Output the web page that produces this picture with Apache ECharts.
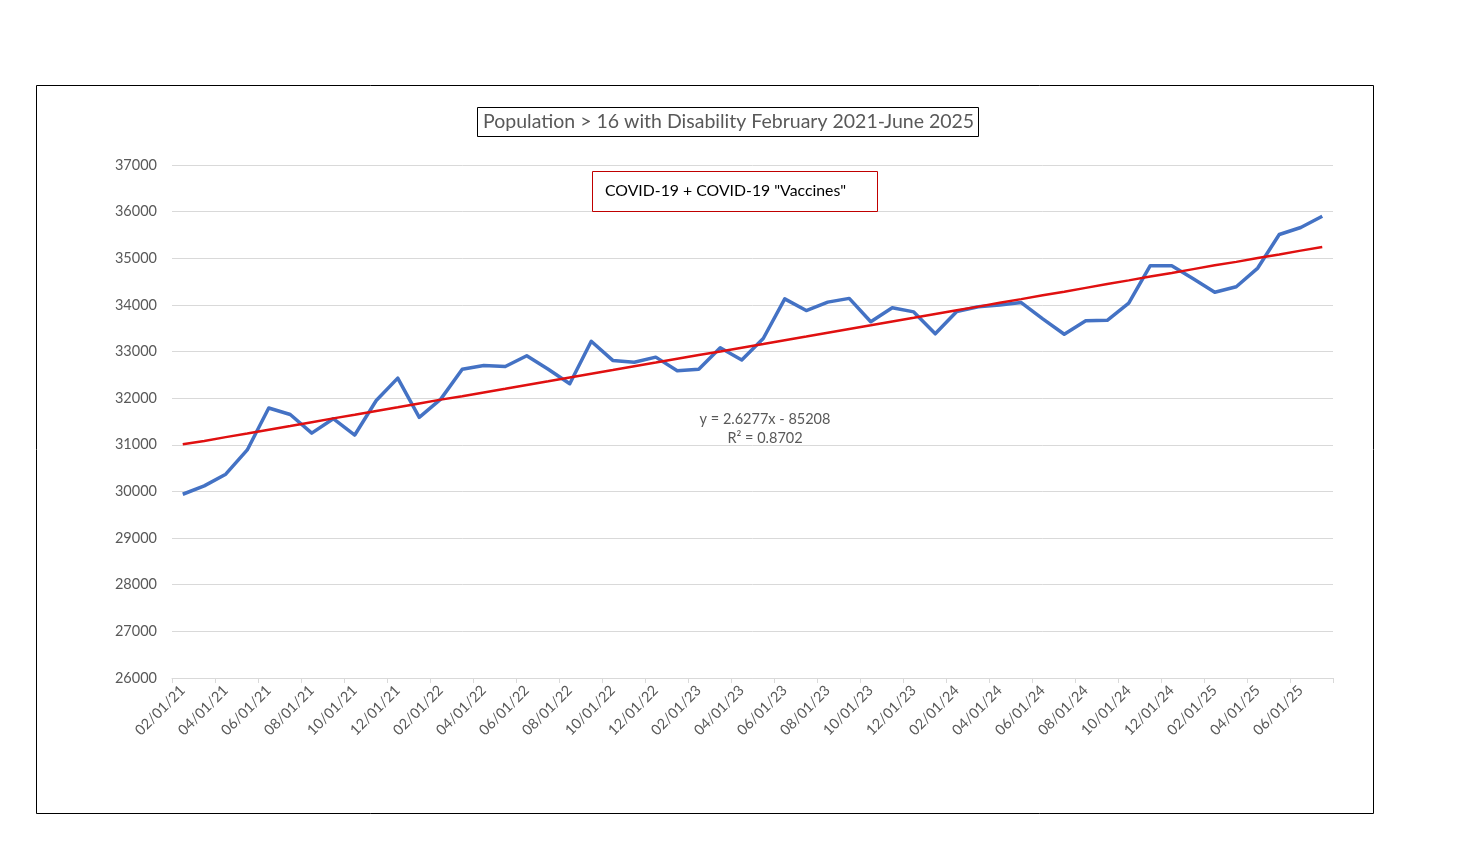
<!DOCTYPE html>
<html>
<head>
<meta charset="utf-8">
<script src="https://cdn.jsdelivr.net/npm/echarts@6/dist/echarts.min.js"></script>
<style>
  html, body { margin: 0; padding: 0; background: #fff; }
  #chart { width: 1463px; height: 866px; }
</style>
</head>
<body>
<div id="chart"></div>
<script>
// ---- Data ----
const categories = [
  '02/01/21','03/01/21','04/01/21','05/01/21','06/01/21','07/01/21','08/01/21','09/01/21','10/01/21','11/01/21','12/01/21',
  '01/01/22','02/01/22','03/01/22','04/01/22','05/01/22','06/01/22','07/01/22','08/01/22','09/01/22','10/01/22','11/01/22','12/01/22',
  '01/01/23','02/01/23','03/01/23','04/01/23','05/01/23','06/01/23','07/01/23','08/01/23','09/01/23','10/01/23','11/01/23','12/01/23',
  '01/01/24','02/01/24','03/01/24','04/01/24','05/01/24','06/01/24','07/01/24','08/01/24','09/01/24','10/01/24','11/01/24','12/01/24',
  '01/01/25','02/01/25','03/01/25','04/01/25','05/01/25','06/01/25','07/01/25'
];
const disabilityPop = [
  29940, 30120, 30370, 30890, 31790, 31650, 31250, 31560, 31210, 31950, 32430,
  31590, 31980, 32620, 32700, 32680, 32910, 32620, 32310, 33220, 32810, 32770, 32880,
  32590, 32620, 33080, 32820, 33280, 34130, 33880, 34060, 34140, 33640, 33940, 33850,
  33380, 33860, 33960, 34000, 34050, 33700, 33370, 33660, 33670, 34040, 34840, 34840,
  34560, 34270, 34390, 34790, 35510, 35660, 35900
];
const trendSlope = 2.6277;
const trendIntercept = -85208;
const titleText = 'Population > 16 with Disability February 2021-June 2025';
const noteText = 'COVID-19 + COVID-19 "Vaccines"';
const equationText = 'y = 2.6277x - 85208';
const r2Text = 'R² = 0.8702';

// Excel date serial for a MM/DD/YY label (used with the displayed trendline equation)
function excelSerial(label) {
  const [m, d, y] = label.split('/').map(Number);
  return Date.UTC(2000 + y, m - 1, d) / 86400000 + 25569;
}
const trendValues = categories.map(c => +(trendSlope * excelSerial(c) + trendIntercept).toFixed(1));

const FONT = 'Lato, "Open Sans", sans-serif';
const chart = echarts.init(document.getElementById('chart'), null, { renderer: 'canvas' });

chart.setOption({
  backgroundColor: '#ffffff',
  animation: false,
  title: [
    {
      text: titleText,
      left: 477, top: 107,
      padding: [5, 5, 5, 6],
      borderColor: '#000000', borderWidth: 1,
      textStyle: { fontFamily: FONT, fontSize: 19.5, fontWeight: 'normal', color: '#595959', lineHeight: 20 }
    },
    {
      text: noteText,
      left: 592, top: 171,
      padding: [10, 32, 11, 13],
      borderColor: '#c00000', borderWidth: 1,
      textStyle: { fontFamily: FONT, fontSize: 15.8, fontWeight: 'normal', color: '#000000', lineHeight: 20 }
    }
  ],
  grid: { left: 172, right: 130, top: 165, bottom: 188, containLabel: false },
  xAxis: {
    type: 'category',
    data: categories,
    boundaryGap: true,
    axisLine: { show: true, lineStyle: { color: '#d9d9d9', width: 1 } },
    axisTick: { show: true, interval: 1, length: 5, lineStyle: { color: '#d9d9d9' } },
    axisLabel: { interval: 1, rotate: 45, margin: 10, color: '#595959', fontFamily: FONT, fontSize: 14.5 },
    splitLine: { show: false }
  },
  yAxis: {
    type: 'value',
    min: 26000, max: 37000, interval: 1000,
    axisLine: { show: false },
    axisTick: { show: false },
    axisLabel: { color: '#595959', fontFamily: FONT, fontSize: 14.5, margin: 15, formatter: v => String(v) },
    splitLine: { show: true, lineStyle: { color: '#d9d9d9', width: 1 } }
  },
  series: [
    {
      name: 'Population > 16 with Disability',
      type: 'line',
      data: disabilityPop,
      symbol: 'none',
      lineStyle: { color: '#4472c4', width: 3.5, join: 'round' },
      z: 2
    },
    {
      name: 'Linear trend',
      type: 'line',
      data: trendValues,
      symbol: 'none',
      lineStyle: { color: '#e01010', width: 2.5 },
      z: 3
    }
  ],
  graphic: [
    {
      type: 'rect',
      shape: { x: 36.5, y: 85.5, width: 1337, height: 728 },
      style: { fill: 'none', stroke: '#000000', lineWidth: 1 },
      silent: true
    },
    {
      type: 'text', x: 765, y: 419,
      style: { text: equationText, fill: '#595959', font: '14.5px ' + FONT, textAlign: 'center', textVerticalAlign: 'middle' }
    },
    {
      type: 'text', x: 765, y: 438,
      style: { text: r2Text, fill: '#595959', font: '14.5px ' + FONT, textAlign: 'center', textVerticalAlign: 'middle' }
    }
  ]
});
</script>
</body>
</html>
